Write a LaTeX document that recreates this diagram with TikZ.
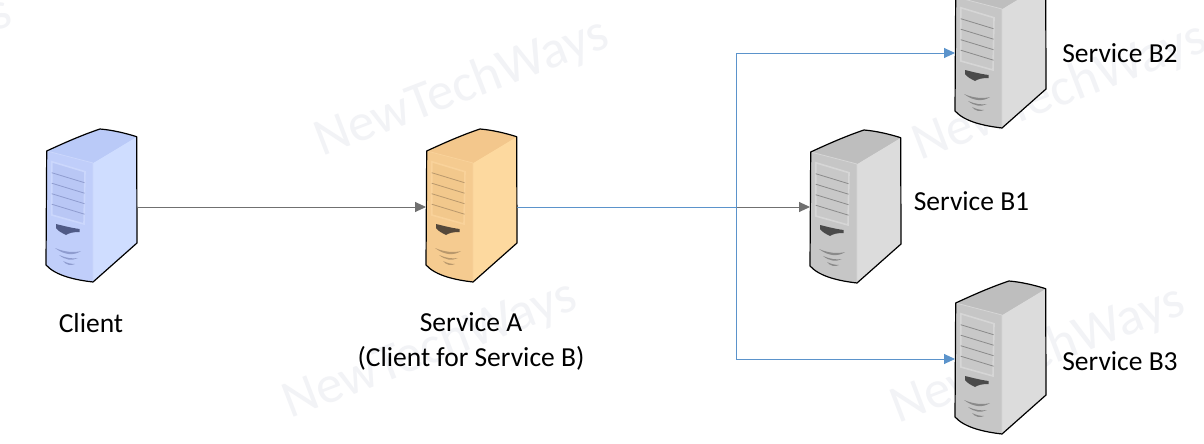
\documentclass[tikz,border=0pt]{standalone}
\usepackage{fontspec}
\setmainfont{Carlito}
\usetikzlibrary{arrows.meta}
\definecolor{wm}{HTML}{F2F3F6}
\definecolor{linkblue}{HTML}{5B93CB}
\definecolor{linkgray}{HTML}{707070}
\definecolor{cfront}{HTML}{C0CEFA}\definecolor{cside}{HTML}{CFDDFF}\definecolor{ctop}{HTML}{BACAF8}\definecolor{cpanel}{HTML}{CBD7FC}\definecolor{cinner}{HTML}{B9C7F5}\definecolor{cline}{HTML}{8F9CCF}\definecolor{cdark}{HTML}{4F5A86}
\definecolor{ofront}{HTML}{F5CB90}\definecolor{oside}{HTML}{FDD99F}\definecolor{otop}{HTML}{F3C78C}\definecolor{opanel}{HTML}{F9D29A}\definecolor{oinner}{HTML}{F2C88C}\definecolor{oline}{HTML}{B9986C}\definecolor{odark}{HTML}{55483A}
\definecolor{gfront}{HTML}{C6C6C6}\definecolor{gside}{HTML}{DCDCDC}\definecolor{gtop}{HTML}{BEBEBE}\definecolor{gpanel}{HTML}{D6D6D6}\definecolor{ginner}{HTML}{C8C8C8}\definecolor{gline}{HTML}{8A8A8A}\definecolor{gdark}{HTML}{4A4A4A}
\tikzset{
  hub/.style={minimum width=91pt,minimum height=156pt,inner sep=0pt,outer sep=0pt},
  lbl/.style={font=\fontsize{27.5pt}{35pt}\selectfont,text=black,inner sep=0pt,align=center},
  wmark/.style={font=\fontsize{53pt}{53pt}\selectfont,text=wm,rotate=21,inner sep=0pt},
  gray link/.style={draw=linkgray,line width=0.9pt,-{Triangle[length=11pt,width=10pt]}},
  blue link/.style={draw=linkblue,line width=0.9pt,-{Triangle[length=11pt,width=10pt]}},
  blue run/.style={draw=linkblue,line width=0.9pt}
}
% #1 x, #2 y, #3 colour prefix
\newcommand{\serverbox}[3]{%
\begin{scope}[shift={(#1,#2)}]
  \fill[#3front] (0.7,22) .. controls (18,14) and (36,6) .. (54,0) .. controls (66,1) and (79,4) .. (90.7,7.7)
     -- (91,114) -- (47,153) .. controls (30,151) and (10,147) .. (0,136) -- cycle;
  \fill[#3side] (47,34) -- (90.7,7.7) -- (91,114) -- (47,153) -- cycle;
  \fill[#3top] (0.7,22) .. controls (18,14) and (36,6) .. (54,0) .. controls (66,1) and (79,4) .. (90.7,7.7) -- (47,34) -- cycle;
  \draw[#3panel,line width=1.6pt,fill=#3inner] (5.7,32.7) -- (39,42.7) -- (38,95) -- (5.7,86) -- cycle;
  \foreach \yy in {11,21.5,32,42.5} {\draw[#3line,line width=0.8pt] (5.7,32.7+\yy) -- (38.5,42.7+\yy);}
  \fill[#3dark] (10,95) .. controls (18,97) and (26,99) .. (33.5,100) -- (33.5,103) .. controls (27,103) and (23,104) .. (20,106) .. controls (16,104) and (12,102) .. (10,99) -- cycle;
  \fill[#3line] (9,119) .. controls (18,123) and (28,124) .. (35,122) .. controls (28,127) and (18,126) .. (9,119) -- cycle;
  \fill[#3line] (13,126) .. controls (20,129) and (26,130) .. (32,129) .. controls (26,132) and (19,131) .. (13,126) -- cycle;
  \fill[#3line] (17,132) .. controls (21,134) and (25,135) .. (29,135) .. controls (25,137) and (20,136) .. (17,132) -- cycle;
  \draw[#3panel,line width=0.8pt] (0.7,22) -- (47,34) -- (47,153);
  \draw[black,line width=1.2pt,line join=round] (47,153) .. controls (30,151) and (10,147) .. (0,136)
     -- (0.7,22) .. controls (18,14) and (36,6) .. (54,0) .. controls (66,1) and (79,4) .. (90.7,7.7)
     -- (91,114) -- cycle;
\end{scope}}
\begin{document}
\begin{tikzpicture}[x=1pt,y=-1pt]
\useasboundingbox (0,0) rectangle (1204,444);
\fill[white] (0,0) rectangle (1204,444);
% watermarks
\node[wmark] at (462,88) {NewTechWays};
\node[wmark] at (430,350) {NewTechWays};
\node[wmark] at (1060,92) {NewTechWays};
\node[wmark] at (1038,355) {NewTechWays};
\node[wmark] at (-135,66) {NewTechWays};
% servers
\serverbox{46}{129}{c}
\serverbox{426}{129}{o}
\serverbox{810}{130}{g}
\serverbox{955}{-25}{g}
\serverbox{955}{281}{g}
% anchors for connectors
\node[hub] (client) at (91.5,207) {};
\node[hub] (svca) at (471.5,207) {};
\node[hub] (b1) at (855.5,207) {};
\node[hub] (b2) at (1000.5,53) {};
\node[hub] (b3) at (1000.5,359) {};
\coordinate (junction) at (736,207);
% connectors
\draw[gray link] (client.east) -- (svca.west);
\draw[gray link] (junction) -- (b1.west);
\draw[blue run] (svca.east) -- (junction);
\draw[blue link] (junction) |- (b2.west);
\draw[blue link] (junction) |- (b3.west);
% labels
\node[lbl] (lc) at (91,323) {Client};
\node[lbl] (la) at (471,341) {Service A\\(Client for Service B)};
\node[lbl] (l1) at (971.5,201) {Service B1};
\node[lbl] (l2) at (1120,53) {Service B2};
\node[lbl] (l3) at (1120,361) {Service B3};
\end{tikzpicture}
\end{document}
